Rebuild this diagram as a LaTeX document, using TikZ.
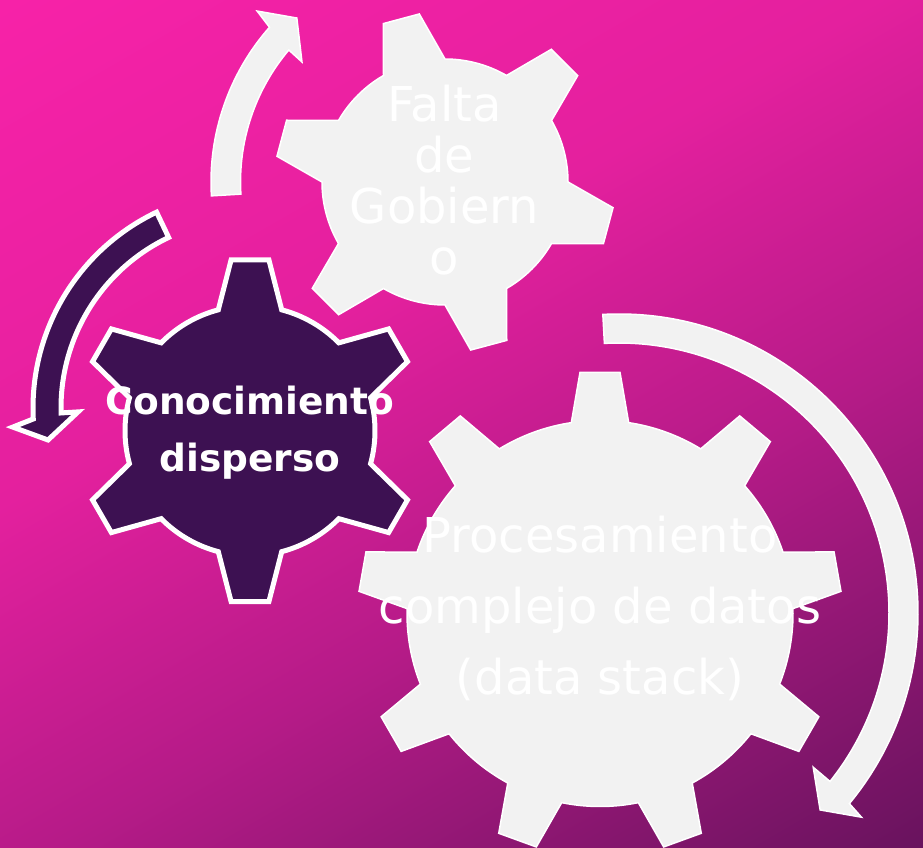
\documentclass[tikz,border=0pt]{standalone}
\usepackage{fontspec}
\setmainfont{DejaVu Sans}
\definecolor{bgA}{RGB}{247,34,168}
\definecolor{bgB}{RGB}{228,32,158}
\definecolor{bgC}{RGB}{182,27,136}
\definecolor{bgD}{RGB}{105,19,94}
\definecolor{gearlight}{RGB}{242,242,242}
\definecolor{geardark}{RGB}{61,17,82}
\pgfdeclarehorizontalshading{bgsh}{100bp}{color(0bp)=(bgA); color(15.85bp)=(bgA); color(40.85bp)=(bgB); color(59.15bp)=(bgC); color(84.15bp)=(bgD); color(100bp)=(bgD)}
% n, theta0, Rbody, Rtip, alpha_base, alpha_tip
\newcommand{\geartrace}[6]{%
  ({#2-#5}:#3)
  \foreach \k in {1,...,#1}{
    -- ({#2+360/#1*(\k-1)-#6}:#4)
    -- ({#2+360/#1*(\k-1)+#6}:#4)
    -- ({#2+360/#1*(\k-1)+#5}:#3)
    arc[start angle={#2+360/#1*(\k-1)+#5}, end angle={#2+360/#1*\k-#5}, radius=#3]
  } -- cycle}
\begin{document}
\begin{tikzpicture}[x=1pt,y=1pt,
  gearL/.style={fill=gearlight, draw=white, line width=1.5pt},
  gearD/.style={fill=geardark, draw=white, line width=5pt},
  arrowL/.style={fill=gearlight, draw=white, line width=1.5pt},
  arrowD/.style={fill=geardark, draw=white, line width=5pt},
  txtL/.style={text=white, align=center, inner sep=0pt},
  txtD/.style={text=white, align=center, inner sep=0pt, font=\fontsize{37.5}{56.7}\selectfont\bfseries}]
\useasboundingbox (0,0) rectangle (923,847);
\shade[shading=bgsh, shading angle=-60] (0,0) rectangle (923,847);

% arrows
\begin{scope}[shift={(445,665)}]
  \filldraw[arrowL] (183.4:234) arc[start angle=183.4, end angle=138.6, radius=234]
    -- (137.7:254) -- (132.1:221) -- (140:186.7) -- (139.8:204.5)
    arc[start angle=139.8, end angle=183.4, radius=204.5] -- cycle;
\end{scope}
\begin{scope}[shift={(250,439)}]
  \filldraw[arrowD] (115.5:217) arc[start angle=115.5, end angle=182.9, radius=217]
    -- (184.6:238) -- (189:204.5) -- (181.3:172) -- (181.5:189)
    arc[start angle=181.5, end angle=115.5, radius=189] -- cycle;
\end{scope}
\begin{scope}[shift={(619,234)}]
  \filldraw[arrowL] (93.1:299) arc[start angle=93.1, end angle=-39.6, radius=299]
    -- (-40.1:317) -- (-44.4:281.5) -- (-38.45:248) -- (-38.6:270)
    arc[start angle=-38.6, end angle=93.1, radius=270] -- cycle;
\end{scope}

% gears
\begin{scope}[shift={(445,665)}]
  \filldraw[gearL] \geartrace{6}{105}{123}{170}{15}{6.3};
\end{scope}
\begin{scope}[shift={(250,416.25)}]
  \filldraw[gearD] \geartrace{6}{90}{125}{172}{14.7}{6.3};
\end{scope}
\begin{scope}[shift={(600,233.5)}]
  \filldraw[gearL] \geartrace{9}{90}{193}{242}{8.55}{4.74};
\end{scope}

% texts
\node[txtL, font=\fontsize{48}{51.1}\selectfont] (t1) at (444.5,666.7) {Falta\\de\\Gobiern\\o};
\node[txtD] (t2) at (250,414) {Conocimiento\\disperso};
\node[txtL, font=\fontsize{48}{71.2}\selectfont] (t3) at (600,238.3) {Procesamiento\\complejo de datos\\(data stack)};
\end{tikzpicture}
\end{document}
